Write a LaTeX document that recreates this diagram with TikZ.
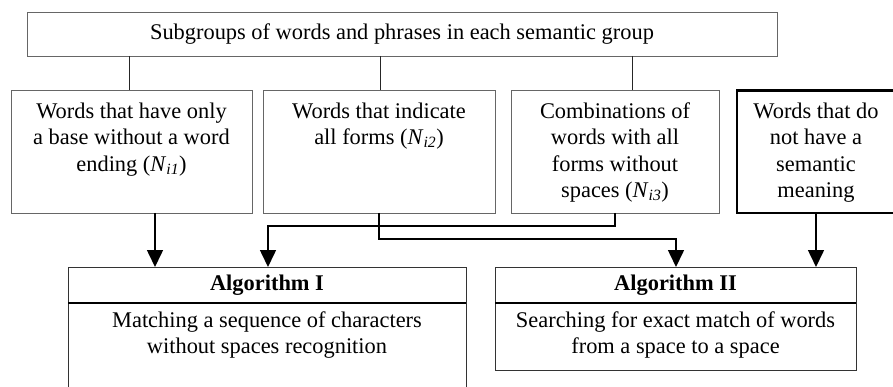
\documentclass[tikz,border=0pt]{standalone}
\usepackage{fontspec}
\setmainfont{Liberation Serif}
\usetikzlibrary{arrows.meta}
\newcommand{\Nsub}[1]{\textit{N}\textsubscript{\textit{#1}}}
\newcommand{\boxpar}[4]{\parbox[t][#1][t]{#2}{\vspace*{#3}\centering #4\par}}
\begin{document}
\begin{tikzpicture}[x=1pt,y=-1pt,
  every node/.style={inner sep=0pt, outer sep=0pt},
  font=\fontsize{22.4}{26.5}\selectfont,
  gbox/.style={draw=black!60, line width=0.9pt},
  abox/.style={draw=black!80, line width=1pt},
  hthick/.style={draw=black, line width=2.4pt},
  thinline/.style={draw=black!85, line width=1pt},
  sepline/.style={draw=black, line width=1.4pt},
  conn/.style={draw=black, line width=1.6pt},
  arr/.style={conn, -{Triangle[length=17pt,width=16pt]}}]
\useasboundingbox (0,0) rectangle (893,387);
\clip (0,0) rectangle (893,387);
% top box
\node[gbox, minimum width=750pt, minimum height=44pt] (top) at (402,34)
  {Subgroups of words and phrases in each semantic group};
% second row
\node[gbox, anchor=north west] (box1) at (11,90.5)
  {\boxpar{122.5pt}{241pt}{9pt}{\strut Words that have only\\ a base without a word\\ ending (\Nsub{i1})}};
\node[gbox, anchor=north west] (box2) at (263,90.5)
  {\boxpar{122.5pt}{232pt}{9pt}{\strut Words that indicate\\ all forms (\Nsub{i2})}};
\node[gbox, anchor=north west] (box3) at (511,90.5)
  {\boxpar{122.5pt}{208pt}{9pt}{\strut Combinations of\\ words with all\\ forms without\\ spaces (\Nsub{i3})}};
\node[anchor=north west] (box4) at (737,90.5)
  {\boxpar{122.5pt}{158pt}{9pt}{\strut Words that do\\ not have a\\ semantic\\ meaning}};
\draw[hthick] ([xshift=60pt]box4.north east) -- (box4.north west) -- (box4.south west) -- ([xshift=60pt]box4.south east);
% algorithm boxes
\node[abox, minimum width=398pt, minimum height=36pt] (alg1h) at (267,285)
  {\textbf{Algorithm I}};
\node[abox, anchor=north west] (alg1b) at (68,303)
  {\boxpar{120pt}{398pt}{5.5pt}{\strut Matching a sequence of characters\\ without spaces recognition}};
\node[abox, minimum width=361pt, minimum height=36pt] (alg2h) at (675.5,285)
  {\textbf{Algorithm II}};
\node[abox, anchor=north west] (alg2b) at (495,303)
  {\boxpar{67pt}{361pt}{5.5pt}{\strut Searching for exact match of words\\ from a space to a space}};
\draw[sepline] (alg1h.south west) -- (alg1h.south east);
\draw[sepline] (alg2h.south west) -- (alg2h.south east);
% helper x positions
\coordinate (x129) at (129,0);
\coordinate (x380) at (380,0);
\coordinate (x632) at (632,0);
\coordinate (x155) at (155,0);
\coordinate (x268) at (268,0);
\coordinate (x676) at (676,0);
\coordinate (x816) at (816,0);
\coordinate (y226) at (0,226);
\coordinate (y239) at (0,239);
% top connectors
\draw[thinline] (top.south -| x129) -- (box1.north -| x129);
\draw[thinline] (top.south -| x380) -- (box2.north -| x380);
\draw[thinline] (top.south -| x632) -- (box3.north -| x632);
% arrows
\draw[arr] (box1.south -| x155) -- (alg1h.north -| x155);
\draw[arr] (box3.south) -- (box3.south |- y226) -| (alg1h.north -| x268);
\draw[arr] (box2.south) -- (box2.south |- y239) -| (alg2h.north -| x676);
\draw[arr] (box4.south -| x816) -- (alg2h.north -| x816);
\end{tikzpicture}
\end{document}
